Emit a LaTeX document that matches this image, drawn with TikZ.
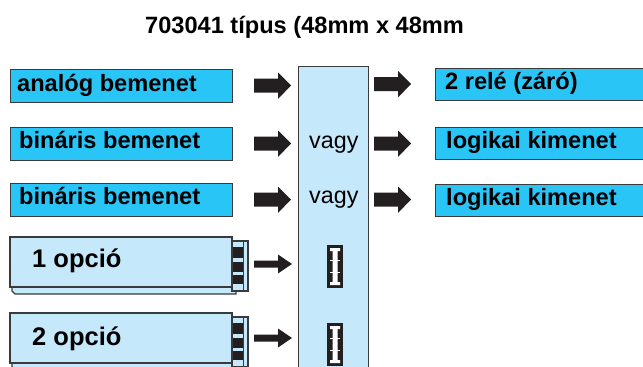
\documentclass[tikz,border=0pt]{standalone}
\usepackage{fontspec}
\setmainfont{Liberation Sans}
\definecolor{cyanbox}{HTML}{29C5F6}
\definecolor{lightbox}{HTML}{C5E9FA}
\definecolor{boxline}{HTML}{3A3A3A}
\definecolor{arrowfill}{HTML}{231F20}
\newcommand{\bigblockarrow}[1]{%
  \fill[arrowfill] ($(#1)+(0,-7)$) -- ++(24,0) -- ++(0,-6) -- ($(#1)+(37,0)$) -- ($(#1)+(24,13.5)$) -- ++(0,-6.5) -- ($(#1)+(0,7)$) -- cycle;}
\newcommand{\smallblockarrow}[1]{%
  \fill[arrowfill] ($(#1)+(0,-3.5)$) -- ++(24,0) -- ++(0,-6) -- ($(#1)+(38,0)$) -- ($(#1)+(24,9.5)$) -- ++(0,-6) -- ($(#1)+(0,3.5)$) -- cycle;}
\usetikzlibrary{calc}
\tikzset{
  inbox/.style={draw=boxline, fill=cyanbox, line width=1.4pt, inner sep=0pt, anchor=north west},
  lbl/.style={inner sep=0pt, anchor=base west, font=\bfseries\fontsize{23.6}{28}\selectfont},
  plain/.style={inner sep=0pt, anchor=base west, font=\fontsize{23.3}{28}\selectfont},
  optface/.style={draw=boxline, fill=lightbox, line width=1.2pt},
}
\newcommand{\optionbox}[1]{%
  % thickness layer
  \filldraw[optface] ($(#1)+(2,6)$) -- ($(#1)+(226,6)$) -- ($(#1)+(226,57)$) -- ($(#1)+(5,57)$) -- ($(#1)+(2,54)$) -- cycle;
  % connector block
  \filldraw[optface] ($(#1)+(222,4)$) rectangle ($(#1)+(238,54)$);
  \fill[arrowfill] ($(#1)+(222,10)$) rectangle ($(#1)+(233,21)$);
  \fill[arrowfill] ($(#1)+(222,25)$) rectangle ($(#1)+(233,35)$);
  \fill[arrowfill] ($(#1)+(222,38)$) rectangle ($(#1)+(233,47)$);
  \draw[boxline, line width=0.8pt] ($(#1)+(233,4)$) -- ($(#1)+(233,54)$);
  % main face
  \filldraw[optface] (#1) rectangle ($(#1)+(222,50)$);
}
\newcommand{\slotmark}[1]{%
  \fill[arrowfill] (#1) rectangle ($(#1)+(16,43)$);
  \fill[white] ($(#1)+(3,3)$) -- ($(#1)+(13,3)$) -- ($(#1)+(13,6)$) -- ($(#1)+(10.5,6)$) -- ($(#1)+(10.5,37)$) -- ($(#1)+(13,37)$) -- ($(#1)+(13,40)$) -- ($(#1)+(3,40)$) -- ($(#1)+(3,37)$) -- ($(#1)+(5.5,37)$) -- ($(#1)+(5.5,6)$) -- ($(#1)+(3,6)$) -- cycle;
  \fill[white] ($(#1)+(3,15)$) rectangle ($(#1)+(13,16)$);
  \fill[white] ($(#1)+(3,27)$) rectangle ($(#1)+(13,28)$);
}
\begin{document}
\begin{tikzpicture}[x=1pt,y=-1pt]
\useasboundingbox (0,0) rectangle (643,367);
\clip (0,0) rectangle (643,367);
\fill[white] (0,0) rectangle (643,367);

% title
\node[lbl] (title) at (145,33) {703041 típus (48mm x 48mm};

% central module
\node[draw=boxline, fill=lightbox, line width=1.4pt, inner sep=0pt, anchor=north west, minimum width=70pt, minimum height=310pt] (center) at (298,66) {};
\node[plain] (vagy1) at (309,148) {vagy};
\node[plain] (vagy2) at (309,203) {vagy};

% input boxes
\node[inbox, minimum width=222pt, minimum height=33pt] (in1) at (10,69) {};
\node[lbl] (in1t) at (17,91) {analóg bemenet};
\node[inbox, minimum width=222pt, minimum height=33pt] (in2) at (10,127) {};
\node[lbl] (in2t) at (19,148.5) {bináris bemenet};
\node[inbox, minimum width=222pt, minimum height=33pt] (in3) at (10,183) {};
\node[lbl] (in3t) at (19,204.5) {bináris bemenet};

% output boxes
\node[inbox, minimum width=215pt, minimum height=32pt] (out1) at (435,67.5) {};
\node[lbl] (out1t) at (445,89.5) {2 relé (záró)};
\node[inbox, minimum width=215pt, minimum height=32pt] (out2) at (435,127) {};
\node[lbl] (out2t) at (446,148.5) {logikai kimenet};
\node[inbox, minimum width=215pt, minimum height=32pt] (out3) at (435,183.5) {};
\node[lbl] (out3t) at (446,205) {logikai kimenet};

% arrows in
\coordinate (a1) at (254,85.5);
\coordinate (a2) at (254,143.5);
\coordinate (a3) at (254,199.5);
\bigblockarrow{a1}
\bigblockarrow{a2}
\bigblockarrow{a3}
% arrows out
\coordinate (b1) at (374,84);
\coordinate (b2) at (374,143.5);
\coordinate (b3) at (374,199.5);
\bigblockarrow{b1}
\bigblockarrow{b2}
\bigblockarrow{b3}

% option cards
\coordinate (o1) at (10,237);
\coordinate (o2) at (10,313);
\optionbox{o1}
\optionbox{o2}
\node[lbl, font=\bfseries\fontsize{25.5}{30}\selectfont] (o1t) at (32,267) {1 opció};
\node[lbl, font=\bfseries\fontsize{25.5}{30}\selectfont] (o2t) at (32,345) {2 opció};

% small arrows
\coordinate (c1) at (254,264);
\coordinate (c2) at (254,338);
\smallblockarrow{c1}
\smallblockarrow{c2}

% slots
\coordinate (s1) at (327,245);
\coordinate (s2) at (327,323);
\slotmark{s1}
\slotmark{s2}
\end{tikzpicture}
\end{document}
